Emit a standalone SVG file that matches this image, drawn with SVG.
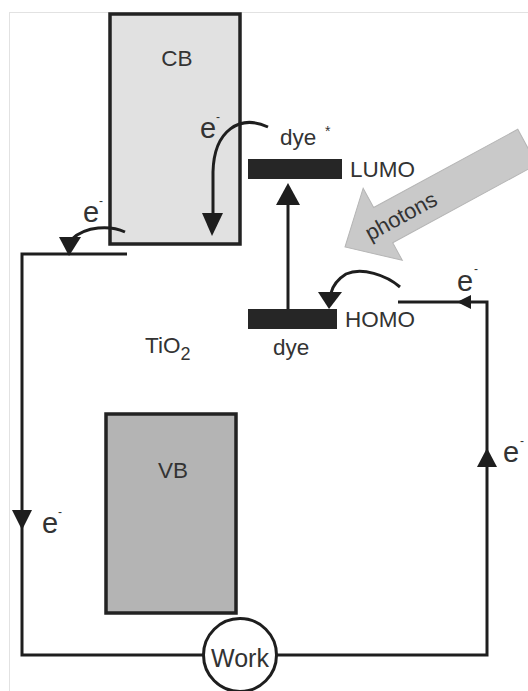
<svg xmlns="http://www.w3.org/2000/svg" width="528" height="691" viewBox="0 0 528 691">
<style>
text{font-family:"Liberation Sans",Arial,sans-serif;fill:#333}
.lbl{font-size:22.5px}
.e{font-size:29px}
.sup{font-size:12px}
.ln{fill:none;stroke:#1e1e1e;stroke-width:3}
.ah{fill:#1e1e1e}
.band{stroke:#222;stroke-width:3.5}
.bar{fill:#262626}
</style>
<rect x="9.5" y="12.5" width="530" height="690" fill="#fff" stroke="#e2e2e2" stroke-width="1"/>
<g id="CB">
<rect class="band" x="110" y="14" width="130" height="230" fill="#e1e1e1"/>
<text class="lbl" x="177" y="66" text-anchor="middle">CB</text>
</g>
<g id="VB">
<rect class="band" x="106" y="414" width="130" height="199" fill="#b4b4b4"/>
<text class="lbl" x="173" y="478" text-anchor="middle">VB</text>
</g>
<g id="TiO2">
<text class="lbl" x="145" y="353">TiO<tspan font-size="18" dy="7">2</tspan></text>
</g>
<g id="LUMO">
<rect class="bar" x="248" y="159" width="94" height="20"/>
<text class="lbl" x="350" y="177">LUMO</text>
<text class="lbl" x="280" y="145">dye</text>
<text x="325" y="136" font-size="14">*</text>
</g>
<g id="HOMO">
<rect class="bar" x="248" y="309" width="89" height="20"/>
<text class="lbl" x="345" y="327">HOMO</text>
<text class="lbl" x="273" y="355">dye</text>
</g>
<g id="photons">
<g transform="translate(345,247) rotate(-28.5)">
<polygon points="0,0 44,-43 44,-21 208,-21 208,19 44,19 44,39" fill="#c9c9c9" stroke="#b5b5b5" stroke-width="1"/>
<text x="64" y="7" font-size="22" text-anchor="middle" fill="#333">photons</text>
</g>
</g>
<g id="Work">
<circle cx="240" cy="655" r="36.5" fill="#fff" stroke="#1e1e1e" stroke-width="3"/>
<text x="240" y="667" font-size="25" text-anchor="middle">Work</text>
</g>
<g id="connectors">
<path class="ln" d="M127,254 H22 V655 H203.5"/>
<path class="ln" d="M276.5,655 H487 V302 H398"/>
<polygon class="ah" points="12,510 32,510 22,530"/>
<polygon class="ah" points="477,467 497,467 487,448"/>
<polygon class="ah" points="457,302 471,295 471,309"/>
<path class="ln" d="M125,232 C110,225 86,226 72,239"/>
<polygon class="ah" points="59,237 81,237 69,256"/>
<path class="ln" d="M268,127 C240,114 214,130 213,172 L213,214"/>
<polygon class="ah" points="202,213 223,213 212,236"/>
<path class="ln" d="M288,309 V204"/>
<polygon class="ah" points="276,205 300,205 288,183"/>
<path class="ln" d="M400,287 C386,275 362,267 346,274 C338,279 333,285 331,293"/>
<polygon class="ah" points="318,292 342,292 329,309"/>
</g>
<g id="electron-labels">
<text class="e" x="200" y="138">e</text><text class="sup" x="216" y="121">-</text>
<text class="e" x="83" y="222">e</text><text class="sup" x="99" y="205">-</text>
<text class="e" x="457" y="291">e</text><text class="sup" x="474" y="273">-</text>
<text class="e" x="503" y="462">e</text><text class="sup" x="520" y="445">-</text>
<text class="e" x="42" y="533">e</text><text class="sup" x="58" y="516">-</text>
</g>
</svg>
